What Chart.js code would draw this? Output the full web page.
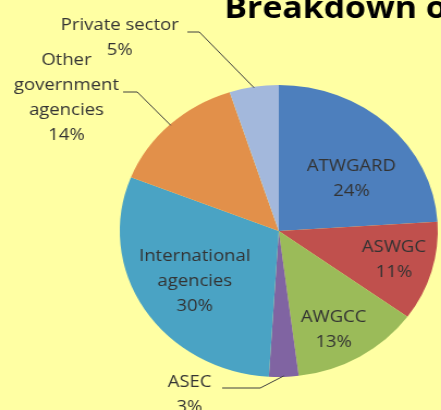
<!DOCTYPE html>
<html>
<head>
<meta charset="utf-8">
<script src="https://cdn.jsdelivr.net/npm/chart.js@4"></script>
<style>
  html, body { margin: 0; padding: 0; background: #ffffa3; overflow: hidden; }
  #wrap { width: 405px; height: 410px; transform: scaleX(1.089); transform-origin: 0 0; }
</style>
</head>
<body>
<div id="wrap"><canvas id="myChart" width="405" height="410"></canvas></div>
<script>
// slices, clockwise from 12 o'clock
const labels = ['ATWGARD', 'ASWGC', 'AWGCC', 'ASEC', 'International agencies', 'Other government agencies', 'Private sector']
const shares = [24, 11, 13, 3, 30, 14, 5]
const colours = ['#4d7fbd', '#c0504d', '#9bbb59', '#8064a2', '#4aa3c4', '#e2904a', '#a3b8dc']
const titleText = 'Breakdown of'

// how each label is drawn: inside the slice (angle in deg from top, radius fraction)
// or outside with a leader line
const labelSetup = [
  { inside: true, angle: 52, rf: 0.58, lines: ['ATWGARD'] },
  { inside: true, angle: 105, rf: 0.75, lines: ['ASWGC'] },
  { inside: true, angle: 153, rf: 0.76, lines: ['AWGCC'] },
  { inside: false, x: 174, y: 382, line: [[204, 388], [239, 388]], lines: ['ASEC'] },
  { inside: true, angle: 237, rf: 0.63, lines: ['International', 'agencies'] },
  { inside: false, x: 61, y: 60, line: [[113, 92], [126, 92]], lines: ['Other', 'government', 'agencies'] },
  { inside: false, x: 110, y: 25, line: [[172, 32], [183, 32]], lines: ['Private sector'] }
]

const labelPlugin = {
  id: 'sliceLabels',
  afterDatasetsDraw(chart) {
    const ctx = chart.ctx
    const arcs = chart.getDatasetMeta(0).data
    ctx.save()
    ctx.font = '17px "Open Sans"'
    ctx.textAlign = 'center'
    ctx.textBaseline = 'middle'
    ctx.fillStyle = '#333333'
    ctx.strokeStyle = '#404040'
    ctx.lineWidth = 1
    const lh = 25
    arcs.forEach((arc, i) => {
      const cfg = labelSetup[i]
      const txt = cfg.lines.concat([shares[i] + '%'])
      let cx, cy
      if (cfg.inside) {
        const a = (cfg.angle - 90) * Math.PI / 180
        cx = arc.x + Math.cos(a) * arc.outerRadius * cfg.rf
        cy = arc.y + Math.sin(a) * arc.outerRadius * cfg.rf - (txt.length - 1) * lh / 2
      } else {
        cx = cfg.x
        cy = cfg.y
        const mid = (arc.startAngle + arc.endAngle) / 2
        const ex = arc.x + Math.cos(mid) * (arc.outerRadius - 1)
        const ey = arc.y + Math.sin(mid) * (arc.outerRadius - 1)
        ctx.beginPath()
        ctx.moveTo(cfg.line[0][0], cfg.line[0][1])
        ctx.lineTo(cfg.line[1][0], cfg.line[1][1])
        ctx.lineTo(ex, ey)
        ctx.stroke()
      }
      txt.forEach((t, k) => ctx.fillText(t, cx, cy + k * lh))
    })
    // title, runs off the right edge like the original
    ctx.font = 'bold 31px "Open Sans"'
    ctx.textAlign = 'left'
    ctx.textBaseline = 'alphabetic'
    ctx.fillStyle = '#000'
    ctx.fillText(titleText, 206, 18)
    ctx.restore()
  }
}

function chart() {
  const data = {
    labels: labels,
    datasets: [{
      data: shares,
      backgroundColor: colours,
      borderWidth: 0
    }]
  }
  const config = {
    type: 'pie',
    data: data,
    options: {
      responsive: false,
      animation: false,
      layout: { padding: { left: 110, right: 3, top: 85, bottom: 33 } },
      plugins: { legend: { display: false }, tooltip: { enabled: false } }
    },
    plugins: [labelPlugin]
  }
  return new Chart(document.getElementById('myChart'), config)
}

document.addEventListener('DOMContentLoaded', () => chart())
</script>
</body>
</html>
